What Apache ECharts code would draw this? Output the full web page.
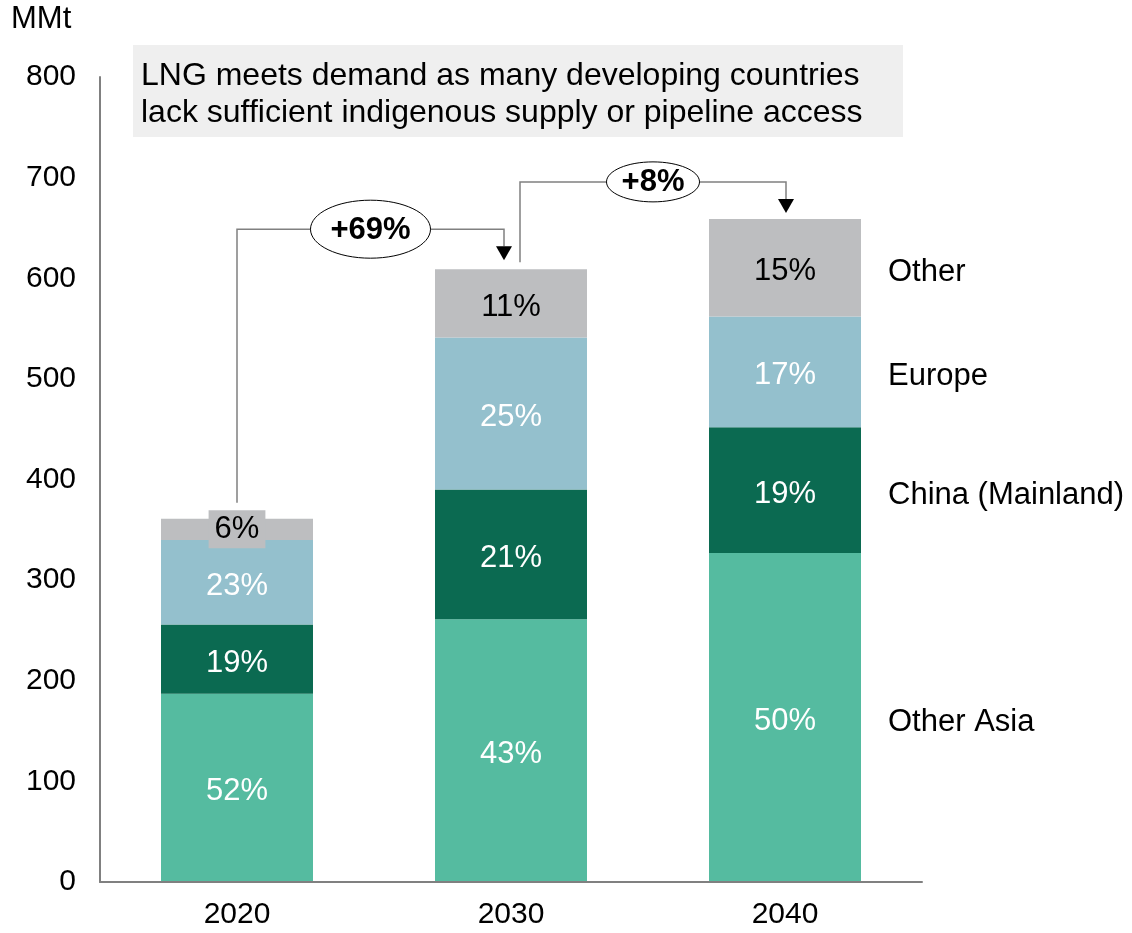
<!DOCTYPE html>
<html>
<head>
<meta charset="utf-8">
<title>LNG demand by region</title>
<script src="https://cdn.jsdelivr.net/npm/echarts@6/dist/echarts.min.js"></script>
<style>
  html, body { margin: 0; padding: 0; background: #ffffff; }
  #chart { width: 1132px; height: 933px; }
</style>
</head>
<body>
<div id="chart"></div>
<script>
// LNG demand, million tonnes, by importing region
const years = ['2020', '2030', '2040'];
const otherAsia = [187, 261, 327];
const chinaMainland = [69, 129, 125];
const europe = [84, 151, 110];
const other = [21, 68, 97];
const seriesNames = ['Other Asia', 'China (Mainland)', 'Europe', 'Other'];
const yTicks = [0, 100, 200, 300, 400, 500, 600, 700, 800];

const FONT = '"Liberation Sans", Arial, Helvetica, sans-serif';
const colors = ['#55BBA0', '#0B6A51', '#94C0CD', '#BDBEC0'];
const labelColors = ['#ffffff', '#ffffff', '#ffffff', '#000000'];
const seriesData = [otherAsia, chinaMainland, europe, other];

const totals = years.map((_, i) => seriesData.reduce((s, arr) => s + arr[i], 0));
const pct = (v, i) => Math.round(v / totals[i] * 100) + '%';

const chart = echarts.init(document.getElementById('chart'), null, { renderer: 'canvas' });

const series = seriesData.map((arr, k) => ({
  name: seriesNames[k],
  type: 'bar',
  stack: 'total',
  barWidth: 152,
  itemStyle: { color: colors[k] },
  label: {
    show: true,
    position: 'inside',
    offset: [0, 4],
    fontFamily: FONT,
    fontSize: 31,
    color: labelColors[k],
    formatter: p => pct(p.value, p.dataIndex)
  },
  data: arr.map((v, i) => {
    // the thin top segment of 2020 carries its label on a grey tab
    if (k === 3 && i === 0) {
      return {
        value: v,
        label: { backgroundColor: colors[3], padding: [4, 6, 3, 6], lineHeight: 31, offset: [0, 0] }
      };
    }
    return v;
  })
}));

chart.setOption({
  animation: false,
  backgroundColor: '#ffffff',
  grid: { left: 100, right: 210, top: 77, bottom: 51, containLabel: false },
  xAxis: {
    type: 'category',
    data: years,
    z: 5,
    axisLine: { show: true, lineStyle: { color: '#808080', width: 2 } },
    axisTick: { show: false },
    axisLabel: { fontFamily: FONT, fontSize: 30, color: '#000000', margin: 18 }
  },
  yAxis: {
    type: 'value',
    min: yTicks[0],
    max: yTicks[yTicks.length - 1],
    interval: yTicks[1] - yTicks[0],
    axisLine: { show: true, lineStyle: { color: '#808080', width: 2 } },
    axisTick: { show: false },
    splitLine: { show: false },
    axisLabel: { fontFamily: FONT, fontSize: 30, color: '#000000', margin: 24 }
  },
  series: series
});

// Annotations: unit, note box, side legend and growth brackets
function px(cat, val) {
  return chart.convertToPixel({ xAxisIndex: 0, yAxisIndex: 0 }, [cat, val]);
}

const graphics = [];

graphics.push({
  type: 'text',
  style: { text: 'MMt', x: 11, y: 19, verticalAlign: 'middle', font: '31px ' + FONT, fill: '#000000' }
});

graphics.push({
  type: 'rect',
  shape: { x: 133, y: 45, width: 770, height: 92 },
  style: { fill: '#EFEFEF' },
  z: 1
});
graphics.push({
  type: 'text',
  z: 2,
  style: {
    text: 'LNG meets demand as many developing countries\nlack sufficient indigenous supply or pipeline access',
    x: 141, y: 95,
    verticalAlign: 'middle',
    lineHeight: 37,
    font: '32px ' + FONT,
    fill: '#000000'
  }
});

// Side legend aligned to the 2040 segments
const last = years.length - 1;
const barRight = px(years[last], 0)[0] + 76;
let base = 0;
seriesData.forEach((arr, k) => {
  const mid = base + arr[last] / 2;
  base += arr[last];
  const y = px(years[last], mid)[1] + 5;
  graphics.push({
    type: 'text',
    style: { text: seriesNames[k], x: barRight + 27, y: y, verticalAlign: 'middle', font: '31px ' + FONT, fill: '#000000' }
  });
});

// Growth brackets between consecutive totals
const lineStyle = { stroke: '#808080', lineWidth: 1.5, fill: null };
const bracketCfg = [
  { startDx: 0, startGap: 16, endDx: -7, endGap: 9, rise: 40, rx: 60, ry: 29 },
  { startDx: 9, startGap: 7, endDx: 1, endGap: 6, rise: 37, rx: 46.5, ry: 20 }
];
for (let i = 0; i < years.length - 1; i++) {
  const c = bracketCfg[i];
  const a = px(years[i], totals[i]);
  const b = px(years[i + 1], totals[i + 1]);
  const x1 = a[0] + c.startDx;
  const y1 = a[1] - c.startGap;
  const x2 = b[0] + c.endDx;
  const tipY = b[1] - c.endGap;
  const yTop = b[1] - c.rise;
  const arrowH = 14;
  graphics.push({
    type: 'polyline',
    shape: { points: [[x1, y1], [x1, yTop], [x2, yTop], [x2, tipY - arrowH]] },
    style: lineStyle,
    z: 10
  });
  graphics.push({
    type: 'polygon',
    shape: { points: [[x2 - 8, tipY - arrowH], [x2 + 8, tipY - arrowH], [x2, tipY]] },
    style: { fill: '#000000' },
    z: 11
  });
  const cx = (x1 + x2) / 2;
  graphics.push({
    type: 'ellipse',
    shape: { cx: cx, cy: yTop, rx: c.rx, ry: c.ry },
    style: { fill: '#ffffff', stroke: '#000000', lineWidth: 1 },
    z: 12
  });
  const growth = Math.round((totals[i + 1] / totals[i] - 1) * 100);
  graphics.push({
    type: 'text',
    z: 13,
    style: {
      text: '+' + growth + '%',
      x: cx, y: yTop + 1,
      align: 'center', verticalAlign: 'middle',
      font: 'bold 31px ' + FONT,
      fill: '#000000'
    }
  });
}

chart.setOption({ graphic: { elements: graphics } });
</script>
</body>
</html>
